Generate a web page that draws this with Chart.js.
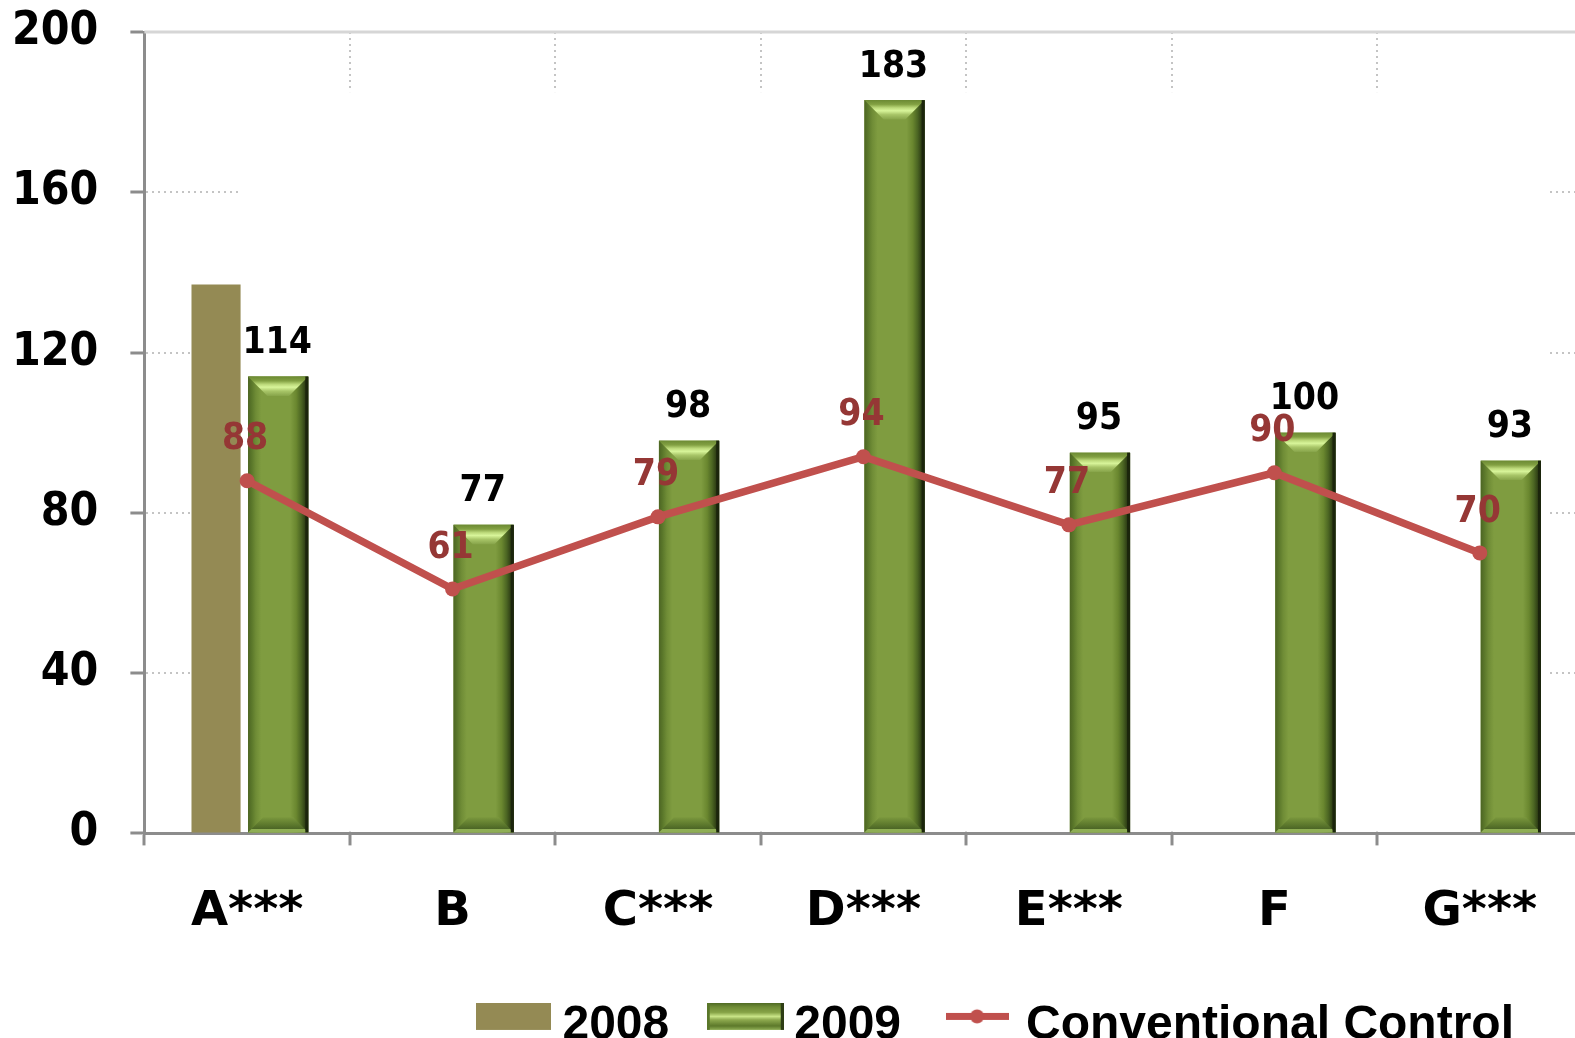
<!DOCTYPE html>
<html><head><meta charset="utf-8">
<script src="https://cdn.jsdelivr.net/npm/chart.js@4"></script>
<style>html,body{margin:0;padding:0;background:#fff;overflow:hidden;width:1575px;height:1038px}</style>
</head><body>
<canvas id="c" width="1590" height="1038"></canvas>
<script>
const categories = ['A***', 'B', 'C***', 'D***', 'E***', 'F', 'G***'];
const values2008 = [137, null, null, null, null, null, null];
const values2009 = [114, 77, 98, 183, 95, 100, 93];
const controlValues = [88, 61, 79, 94, 77, 90, 70];
const yTicks = [0, 40, 80, 120, 160, 200];
const seriesNames = ['2008', '2009', 'Conventional Control'];

const C2008 = '#948a54', C2009 = '#7e9b3e', CLINE = '#c0504d', CLABEL = '#953735';
const AXIS = '#8c8c8c', GRID = '#c4c4c4';
const FONT = '"DejaVu Sans", Verdana, sans-serif';
const FONT_C = '"DejaVu Sans Condensed", "DejaVu Sans", Verdana, sans-serif';
const LEGEND_FONT = '"Liberation Sans", Arial, sans-serif';

function drawBevel(ctx, x0, x1, top, base) {
  const w = x1 - x0, h = base - top;
  if (h <= 0) return;
  const g = ctx.createLinearGradient(x0, 0, x1, 0);
  g.addColorStop(0, '#4c6523'); g.addColorStop(0.06, '#5a772a'); g.addColorStop(0.13, '#6f8c36');
  g.addColorStop(0.22, '#7f9c40'); g.addColorStop(0.7, '#7f9c40'); g.addColorStop(0.8, '#6a872f');
  g.addColorStop(0.88, '#4c6623'); g.addColorStop(0.95, '#2e3e15'); g.addColorStop(1, '#19220b');
  ctx.fillStyle = g; ctx.fillRect(x0, top, w, h);
  const d = Math.min(w * 0.32, h / 2);
  ctx.beginPath(); ctx.moveTo(x0, top); ctx.lineTo(x1, top); ctx.lineTo(x1 - d, top + d); ctx.lineTo(x0 + d, top + d); ctx.closePath();
  const gt = ctx.createLinearGradient(0, top, 0, top + d);
  gt.addColorStop(0, '#6c8a33'); gt.addColorStop(0.22, '#82a042'); gt.addColorStop(0.4, '#bcd97a');
  gt.addColorStop(0.55, '#d8f59a'); gt.addColorStop(0.75, '#a8c568'); gt.addColorStop(1, '#87a44a');
  ctx.fillStyle = gt; ctx.fill();
  const db = Math.min(w * 0.25, h / 2);
  ctx.beginPath(); ctx.moveTo(x0, base); ctx.lineTo(x1, base); ctx.lineTo(x1 - db, base - db); ctx.lineTo(x0 + db, base - db); ctx.closePath();
  const gb = ctx.createLinearGradient(0, base, 0, base - db);
  gb.addColorStop(0, '#8fae55'); gb.addColorStop(0.2, '#8fae55'); gb.addColorStop(0.25, '#4d6726');
  gb.addColorStop(0.55, '#5f7b2e'); gb.addColorStop(1, '#7a973d');
  ctx.fillStyle = gb; ctx.fill();
  ctx.fillStyle = '#1b250c'; ctx.fillRect(x1 - 3, top, 3, h);
}

function makeImg(w, h, fn) {
  const c = document.createElement('canvas'); c.width = w; c.height = h;
  fn(c.getContext('2d')); return c;
}
const img2008 = makeImg(75, 45, g => { g.fillStyle = C2008; g.fillRect(0, 0, 75, 27); });
const img2009 = makeImg(77, 45, g => {
  const gr = g.createLinearGradient(0, 0, 0, 27);
  gr.addColorStop(0, '#4f6a24'); gr.addColorStop(0.15, '#6f8c36'); gr.addColorStop(0.35, '#86a347');
  gr.addColorStop(0.5, '#c9e588'); gr.addColorStop(0.62, '#8fab50'); gr.addColorStop(0.85, '#5d792b'); gr.addColorStop(1, '#8fae55');
  g.fillStyle = gr; g.fillRect(0, 0, 77, 27);
  g.fillStyle = '#2e3e15'; g.fillRect(74, 0, 3, 27);
  g.fillStyle = '#5a772a'; g.fillRect(0, 0, 3, 27);
});
const imgLine = makeImg(63, 45, g => {
  g.strokeStyle = CLINE; g.lineWidth = 7; g.beginPath(); g.moveTo(0, 13.5); g.lineTo(63, 13.5); g.stroke();
  g.fillStyle = CLINE; g.beginPath(); g.arc(31.5, 13.5, 7, 0, Math.PI * 2); g.fill();
});
const legendImgs = [img2008, img2009, imgLine];

const coverPlugin = {
  id: 'cover',
  beforeDatasetsDraw(chart) {
    const ctx = chart.ctx, area = chart.chartArea, ys = chart.scales.y;
    const m0 = chart.getDatasetMeta(0).data[0], m1 = chart.getDatasetMeta(1).data;
    const last = m1[m1.length - 1];
    const x0 = m0.x + m0.width / 2, x1 = last.x + last.width / 2 + 9;
    const yTop = ys.getPixelForValue(185);
    ctx.save();
    ctx.fillStyle = '#fff';
    ctx.fillRect(x0, yTop, x1 - x0, area.bottom - 2 - yTop);
    ctx.strokeStyle = '#d6d6d6'; ctx.lineWidth = 3;
    ctx.beginPath(); ctx.moveTo(area.left, area.top); ctx.lineTo(area.right, area.top); ctx.stroke();
    ctx.restore();
  }
};

const bevelPlugin = {
  id: 'bevel',
  afterDatasetDraw(chart, args) {
    if (args.index !== 1) return;
    const ctx = chart.ctx;
    ctx.save();
    args.meta.data.forEach(bar => {
      drawBevel(ctx, bar.x - bar.width / 2, bar.x + bar.width / 2, bar.y, bar.base);
    });
    ctx.restore();
  }
};

const labelPlugin = {
  id: 'valueLabels',
  afterDatasetsDraw(chart) {
    const ctx = chart.ctx;
    ctx.save();
    ctx.font = 'bold 37px ' + FONT_C; ctx.textAlign = 'center'; ctx.textBaseline = 'middle';
    chart.getDatasetMeta(1).data.forEach((bar, i) => {
      ctx.fillStyle = '#000'; ctx.fillText(String(values2009[i]), bar.x - 1, bar.y - 33);
    });
    chart.getDatasetMeta(2).data.forEach((pt, i) => {
      ctx.fillStyle = CLABEL; ctx.fillText(String(controlValues[i]), pt.x - 2, pt.y - 41);
    });
    ctx.restore();
  }
};

const legendShift = {
  id: 'legendShift',
  afterLayout(chart) {
    const lg = chart.legend;
    if (!lg) return;
    lg.right = chart.width - 25;
    lg.width = lg.right - lg.left;
    lg.top = chart.chartArea.bottom + 117;
    lg.bottom = lg.top + lg.height;
  }
};

new Chart(document.getElementById('c'), {
  data: {
    labels: categories,
    datasets: [
      { type: 'bar', label: seriesNames[0], data: values2008, backgroundColor: C2008, barPercentage: 0.79, categoryPercentage: 0.605, order: 1 },
      { type: 'bar', label: seriesNames[1], data: values2009, backgroundColor: C2009, barPercentage: 0.97, categoryPercentage: 0.605, order: 1 },
      { type: 'line', label: seriesNames[2], data: controlValues, borderColor: CLINE, backgroundColor: CLINE, borderWidth: 7.5,
        pointRadius: 7.5, pointBackgroundColor: CLINE, pointBorderWidth: 0, tension: 0, order: 0 }
    ]
  },
  options: {
    responsive: false,
    animation: false,
    layout: { padding: { top: 32, left: 12, right: 0, bottom: -12 } },
    plugins: {
      tooltip: { enabled: false },
      legend: {
        position: 'bottom', align: 'end',
        labels: {
          usePointStyle: true, pointStyleWidth: 50, boxHeight: 27, padding: 51, color: '#000',
          font: { family: LEGEND_FONT, size: 48, weight: 'bold' },
          generateLabels: () => seriesNames.map((t, i) => ({
            text: t, pointStyle: legendImgs[i], fillStyle: 'transparent', strokeStyle: 'transparent',
            lineWidth: 0, hidden: false, datasetIndex: i, fontColor: '#000'
          }))
        }
      }
    },
    scales: {
      x: {
        offset: true,
        afterFit: s => { s.paddingLeft = 0; s.paddingRight = 0; s.height -= s.options.ticks.padding; },
        grid: { offset: true, color: GRID, lineWidth: 2, tickColor: AXIS, tickWidth: 3, tickLength: 12 },
        border: { color: AXIS, width: 3, dash: [2, 4] },
        ticks: { color: '#000', font: { family: FONT, size: 48, weight: 'bold' }, padding: 38, maxRotation: 0 }
      },
      y: {
        min: 0, max: 200,
        afterBuildTicks: s => { s.ticks = yTicks.map(v => ({ value: v })); },
        afterFit: s => { s.paddingTop = 0; s.paddingBottom = 0; s.width -= s.options.ticks.padding; },
        grid: { color: GRID, lineWidth: 2, tickColor: AXIS, tickWidth: 3, tickLength: 14 },
        border: { color: AXIS, width: 3, dash: [2, 4] },
        ticks: { color: '#000', font: { family: FONT_C, size: 46, weight: 'bold' }, padding: 32 }
      }
    }
  },
  plugins: [coverPlugin, bevelPlugin, labelPlugin, legendShift]
});
</script>
</body></html>
